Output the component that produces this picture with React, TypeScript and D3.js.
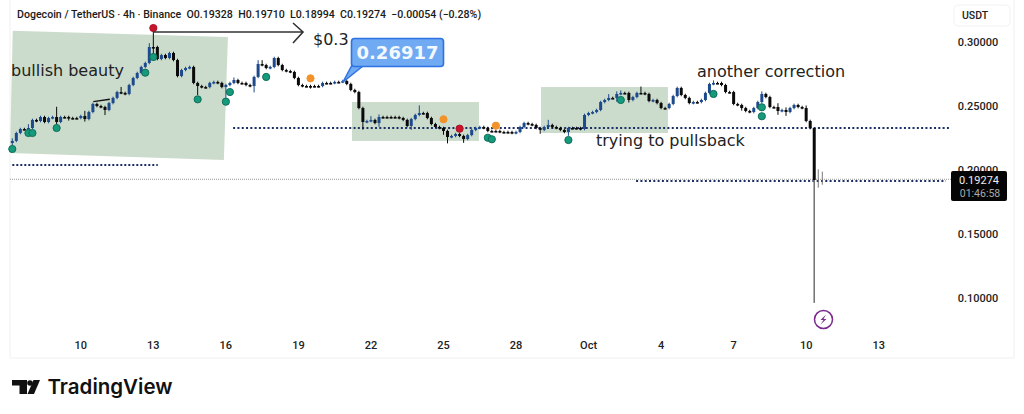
import * as d3 from 'd3';

const firstOpen = 0.2211;
// close of every 4h candle
const closes = [
  0.2227, 0.2289, 0.2320, 0.2320, 0.2328, 0.2391, 0.2383, 0.2414, 0.2375, 0.2406,
  0.2414, 0.2375, 0.2414, 0.2414, 0.2406, 0.2406, 0.2406, 0.2422, 0.2398, 0.2453,
  0.2516, 0.2500, 0.2492, 0.2469, 0.2523, 0.2563, 0.2609, 0.2602, 0.2594, 0.2664,
  0.2719, 0.2758, 0.2805, 0.2836, 0.2961, 0.2961, 0.2867, 0.2898, 0.2875, 0.2914,
  0.2859, 0.2734, 0.2781, 0.2797, 0.2805, 0.2680, 0.2656, 0.2648, 0.2648, 0.2680,
  0.2688, 0.2680, 0.2648, 0.2664, 0.2680, 0.2703, 0.2680, 0.2680, 0.2664, 0.2656,
  0.2727, 0.2828, 0.2820, 0.2797, 0.2805, 0.2875, 0.2820, 0.2781, 0.2773, 0.2766,
  0.2719, 0.2664, 0.2656, 0.2656, 0.2656, 0.2656, 0.2656, 0.2680, 0.2680, 0.2680,
  0.2688, 0.2688, 0.2695, 0.2672, 0.2625, 0.2609, 0.2484, 0.2375, 0.2383, 0.2391,
  0.2367, 0.2414, 0.2414, 0.2414, 0.2414, 0.2414, 0.2406, 0.2391, 0.2344, 0.2398,
  0.2430, 0.2445, 0.2445, 0.2406, 0.2359, 0.2336, 0.2328, 0.2305, 0.2258, 0.2266,
  0.2281, 0.2266, 0.2242, 0.2273, 0.2313, 0.2328, 0.2336, 0.2328, 0.2305, 0.2305,
  0.2305, 0.2297, 0.2297, 0.2297, 0.2289, 0.2297, 0.2336, 0.2367, 0.2359, 0.2352,
  0.2328, 0.2313, 0.2336, 0.2352, 0.2336, 0.2328, 0.2313, 0.2297, 0.2328, 0.2328,
  0.2328, 0.2320, 0.2430, 0.2445, 0.2453, 0.2469, 0.2531, 0.2547, 0.2563, 0.2563,
  0.2594, 0.2602, 0.2602, 0.2547, 0.2570, 0.2602, 0.2602, 0.2594, 0.2539, 0.2547,
  0.2523, 0.2484, 0.2484, 0.2516, 0.2578, 0.2641, 0.2586, 0.2563, 0.2523, 0.2531,
  0.2531, 0.2547, 0.2602, 0.2672, 0.2680, 0.2680, 0.2664, 0.2609, 0.2609, 0.2516,
  0.2508, 0.2484, 0.2461, 0.2453, 0.2484, 0.2531, 0.2594, 0.2570, 0.2492, 0.2492,
  0.2461, 0.2469, 0.2453, 0.2484, 0.2508, 0.2492, 0.2484, 0.2383, 0.2328, 0.1922,
  0.1925, 0.19274,
];
// wick lengths above / below the body, in thousandths of a USDT
const upperWick = [
  2, 1, 1, 1, 3, 1, 1, 1, 1, 1,
  1, 8, 1, 1, 1, 1, 1, 1, 4, 1,
  1, 1, 1, 1, 1, 1, 1, 4, 1, 1,
  1, 1, 1, 1, 3, 12, 1, 1, 1, 1,
  1, 1, 1, 1, 1, 1, 1, 1, 1, 1,
  1, 1, 1, 1, 1, 2, 1, 1, 1, 1,
  1, 3, 3, 1, 1, 1, 1, 1, 1, 1,
  1, 1, 1, 1, 1, 1, 1, 1, 1, 1,
  1, 1, 1, 1, 1, 1, 1, 1, 1, 3,
  1, 2, 1, 1, 1, 1, 1, 1, 1, 1,
  1, 6, 1, 1, 1, 1, 1, 1, 1, 1,
  1, 1, 1, 1, 1, 1, 1, 1, 1, 1,
  1, 1, 1, 1, 1, 1, 1, 1, 1, 1,
  1, 1, 1, 4, 1, 1, 1, 1, 1, 1,
  1, 1, 1, 1, 1, 1, 1, 1, 3, 1,
  2, 2, 1, 1, 1, 1, 5, 1, 1, 1,
  1, 1, 1, 1, 1, 1, 1, 1, 1, 1,
  1, 1, 1, 1, 2, 1, 1, 1, 1, 1,
  1, 1, 1, 1, 1, 1, 2, 1, 1, 1,
  3, 1, 2, 1, 1, 1, 1, 2, 1, 0,
  8, 6,
];
const lowerWick = [
  2, 1, 1, 1, 1, 1, 1, 1, 1, 1,
  1, 2, 1, 1, 2, 1, 1, 1, 2, 1,
  1, 1, 1, 4, 1, 1, 1, 1, 1, 1,
  1, 1, 1, 1, 1, 10, 1, 1, 1, 1,
  1, 1, 1, 1, 1, 1, 7, 1, 1, 1,
  1, 1, 1, 10, 1, 1, 1, 1, 1, 1,
  5, 1, 1, 1, 1, 1, 1, 1, 1, 1,
  1, 1, 1, 1, 2, 1, 1, 1, 1, 1,
  1, 1, 1, 1, 1, 1, 1, 6, 1, 1,
  1, 3, 1, 1, 1, 1, 1, 1, 1, 3,
  1, 1, 1, 1, 1, 1, 1, 3, 5, 1,
  1, 1, 3, 1, 1, 1, 1, 1, 1, 1,
  1, 1, 1, 1, 1, 1, 1, 1, 1, 1,
  1, 3, 1, 1, 1, 1, 1, 1, 3, 1,
  1, 1, 1, 1, 1, 1, 1, 1, 1, 1,
  3, 1, 1, 2, 1, 1, 1, 1, 1, 1,
  1, 1, 1, 1, 1, 1, 1, 1, 1, 1,
  1, 1, 1, 1, 1, 1, 1, 1, 1, 1,
  1, 2, 1, 1, 1, 1, 1, 1, 1, 1,
  3, 1, 3, 1, 1, 1, 1, 1, 1, 96,
  6, 4,
];

const priceTicks = [0.3, 0.25, 0.2, 0.15, 0.1];
const timeLabels = ['10', '13', '16', '19', '22', '25', '28', 'Oct', '4', '7', '10', '13'];
const timeIndex = [17, 35, 53, 71, 89, 107, 125, 143, 161, 179, 197, 215];

// dots on the chart: candle index and price
const greenIdx = [0, 4, 5, 11, 33, 35, 46, 53, 54, 63, 118, 119, 138, 151, 174, 186, 186];
const greenPrice = [0.2164, 0.2289, 0.2289, 0.2328, 0.276, 0.2883, 0.2552, 0.2534, 0.2609, 0.2727, 0.2252, 0.224, 0.2234, 0.2547, 0.2594, 0.249, 0.242];
const orangeIdx = [74, 107, 120];
const orangePrice = [0.2716, 0.2396, 0.2346];
const redIdx = [35, 111];
const redPrice = [0.3109, 0.2323];

// drawn levels: price, from index, to index
const levelPrice = [0.2328, 0.2039, 0.1914];
const levelFrom = [54.8, 0, 154.8];
const levelTo = [233, 36.1, 231.7];

const bullishBox: [number, number][] = [[0.1, 0.3088], [53.5, 0.3039], [52.5, 0.2078], [-0.57, 0.2133]];
const boxFrom = [84.3, 131.2];
const boxTo = [115.8, 162.7];
const boxTop = [0.2531, 0.2648];
const boxBottom = [0.2227, 0.2289];

const lastPrice = 0.19274;
const sansFont = 'Roboto, sans-serif';
const noteFont = '"DejaVu Sans", sans-serif';

const x = d3.scaleLinear().domain([0, 215]).range([12.3, 878.7]);
const y = d3.scaleLinear().domain([0.1, 0.3]).range([298, 42]);

const up = '#1d4a8c';
const down = '#0a0a0a';
const navy = '#1c2f66';

function Dot({ i, p, fill, stroke, r = 3.6 }: { i: number; p: number; fill: string; stroke: string; r?: number }) {
  return <circle cx={x(i)} cy={y(p)} r={r} fill={fill} stroke={stroke} strokeWidth={1} />;
}

export default function App() {
  const opens = closes.map((_, i) => (i === 0 ? firstOpen : closes[i - 1]));
  const polygon = d3.line()(bullishBox.map(([i, p]) => [x(i), y(p)] as [number, number])) + 'Z';

  return (
    <svg width={1024} height={414} style={{ position: 'fixed', left: 0, top: 0, background: '#fff' }}>
      {/* pane borders */}
      <path d="M10 0V358H1014V0" fill="none" stroke="#f0f0f0" />
      <rect x={954} y={5} width={56} height={21} rx={4} fill="#fff" stroke="#f2f2f2" />
      <text x={962} y={19} fontFamily={sansFont} fontSize={10.5} fontWeight={500} fill="#222">USDT</text>

      {/* pasted highlight boxes */}
      <path d={polygon} fill="#ccdccc" />
      {boxFrom.map((b, k) => (
        <rect key={k} x={x(b)} y={y(boxTop[k])} width={x(boxTo[k]) - x(b)} height={y(boxBottom[k]) - y(boxTop[k])} fill="#ccdccc" />
      ))}

      {/* last price line */}
      <line x1={10} x2={955} y1={y(lastPrice)} y2={y(lastPrice)} stroke="#999" strokeDasharray="1 1" />

      {levelPrice.map((p, k) => (
        <line key={k} x1={x(levelFrom[k])} x2={x(levelTo[k])} y1={y(p)} y2={y(p)}
          stroke={navy} strokeWidth={2} strokeDasharray={k === 1 ? '2 2' : '2 2.3'} />
      ))}

      {/* candles */}
      {closes.map((c, i) => {
        const o = opens[i];
        const top = Math.max(o, c);
        const bottom = Math.min(o, c);
        const color = c > o ? up : down;
        const bodyH = Math.max(y(bottom) - y(top), 1.6);
        return (
          <g key={i}>
            <line x1={x(i)} x2={x(i)} y1={y(top + upperWick[i] / 1000)} y2={y(bottom - lowerWick[i] / 1000)}
              stroke={i >= 199 ? '#777' : color} strokeWidth={i === 199 ? 1.6 : 1} />
            {i < 200 && <rect x={x(i) - 1.5} y={y(top)} width={3} height={bodyH} fill={color} />}
          </g>
        );
      })}

      {greenIdx.map((g, k) => <Dot key={k} i={g} p={greenPrice[k]} fill="#159a7c" stroke="#0f6f58" />)}
      {orangeIdx.map((g, k) => <Dot key={k} i={g} p={orangePrice[k]} fill="#f2932a" stroke="#f2932a" />)}
      {redIdx.map((g, k) => <Dot key={k} i={g} p={redPrice[k]} fill="#c7152c" stroke="#b01226" />)}

      {/* small sketched stroke over the candles */}
      <line x1={x(20.1)} x2={x(24.2)} y1={y(0.2534)} y2={y(0.2553)} stroke="#111" strokeWidth={1.4} />

      {/* arrow */}
      <path d="M153 32H302M293 23L303 32L293 43" fill="none" stroke="#333" strokeWidth={1.6} />
      <text x={313} y={45} fontFamily={noteFont} fontSize={16} fill="#222">$0.3</text>

      {/* callout */}
      <path d="M352 65L343 82L363 66Z" fill="#6faaf2" stroke="#2f72e2" strokeWidth={1.5} strokeLinejoin="round" />
      <rect x={351.5} y={38.5} width={92} height={28} rx={3} fill="#6faaf2" stroke="#2f72e2" strokeWidth={1.6} />
      <text x={397.5} y={59} textAnchor="middle" fontFamily={noteFont} fontSize={18} fontWeight={700} fill="#f4f8ff">0.26917</text>

      <text x={11} y={76} fontFamily={noteFont} fontSize={16} fill="#222">bullish beauty</text>
      <text x={697} y={77} fontFamily={noteFont} fontSize={16} fill="#222">another correction</text>
      <text x={596} y={146} fontFamily={noteFont} fontSize={16} fill="#222">trying to pullsback</text>

      {/* header */}
      <text x={17} y={18} fontFamily={sansFont} fontSize={10.6} fontWeight={500} fill="#1a1a1a" xmlSpace="preserve">
        Dogecoin / TetherUS · 4h · Binance  O0.19328  H0.19710  L0.18994  C0.19274  −0.00054 (−0.28%)
      </text>

      {/* price axis */}
      {priceTicks.map(t => (
        <text key={t} x={978} y={y(t) + 4} textAnchor="middle" fontFamily={sansFont} fontSize={11} fontWeight={500} fill="#222">
          {t.toFixed(5)}
        </text>
      ))}
      <rect x={951} y={171} width={56} height={30} rx={2} fill="#050505" />
      <text x={979} y={183.5} textAnchor="middle" fontFamily={sansFont} fontSize={11} fill="#eee">{lastPrice.toFixed(5)}</text>
      <text x={980} y={196.5} textAnchor="middle" fontFamily={sansFont} fontSize={10.5} fill="#aaa">01:46:58</text>

      {/* time axis */}
      {timeLabels.map((t, k) => (
        <text key={k} x={x(timeIndex[k])} y={349} textAnchor="middle" fontFamily={sansFont} fontSize={11} fontWeight={500} fill="#222">
          {t}
        </text>
      ))}

      {/* lightning marker */}
      <circle cx={823.5} cy={319.5} r={9} fill="#fff" stroke="#7a2a8e" strokeWidth={1.5} />
      <path d="M826 314.5L820.5 320H823.5L820.5 324.5L826.5 319H823.5Z" fill="#7a2a8e" />

      {/* logo */}
      <path d="M12 380H27V394H19.5V385.5H12Z" fill="#111" />
      <circle cx={30} cy={383} r={2.8} fill="#111" />
      <path d="M33.5 380H40L34 394H27.5Z" fill="#111" />
      <text x={47.5} y={394} fontFamily="Inter, sans-serif" fontSize={20.5} fontWeight={600} fill="#111">TradingView</text>
    </svg>
  );
}
